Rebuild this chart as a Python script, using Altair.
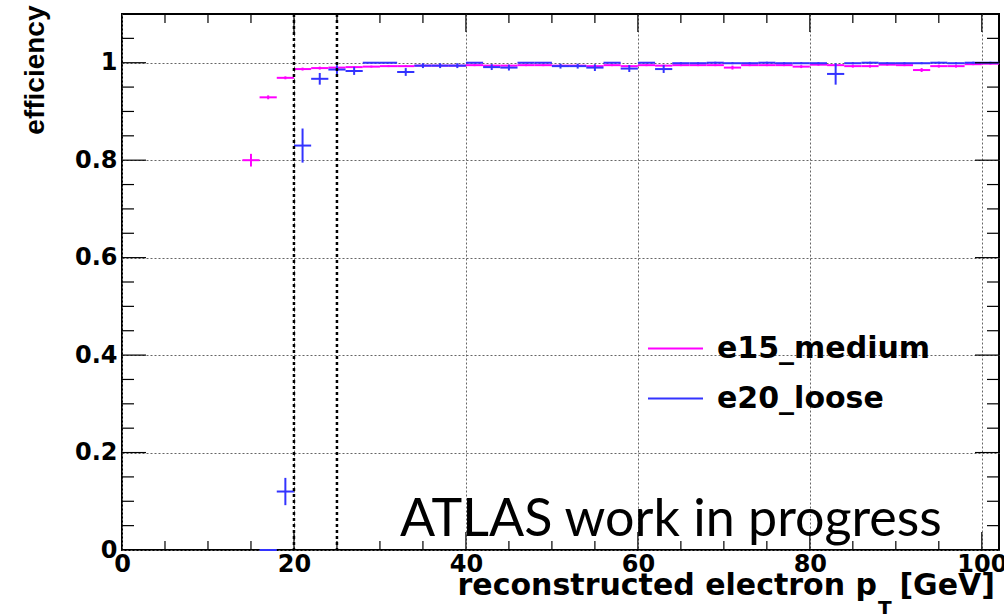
import altair as alt
import pandas as pd

# ---------------- data ----------------
series_names = ["e15_medium", "e20_loose"]
series_colors = ["#ff00ff", "#3333ff"]

bin_half_width = 1.0  # GeV (bins are 2 GeV wide)

e15_pt = [15, 17, 19, 21, 23, 25, 27, 29, 31, 33, 35, 37, 39, 41, 43, 45, 47, 49, 51, 53, 55, 57,
          59, 61, 63, 65, 67, 69, 71, 73, 75, 77, 79, 81, 83, 85, 87, 89, 91, 93, 95, 97, 99, 101]
e15_eff = [0.800, 0.929, 0.969, 0.987, 0.989, 0.990, 0.991, 0.992, 0.993, 0.993, 0.994, 0.994,
           0.994, 0.995, 0.994, 0.994, 0.995, 0.995, 0.994, 0.994, 0.993, 0.995, 0.993, 0.995,
           0.994, 0.995, 0.995, 0.995, 0.990, 0.995, 0.995, 0.995, 0.992, 0.996, 0.995, 0.993,
           0.993, 0.996, 0.995, 0.985, 0.993, 0.993, 0.997, 0.998]
e15_err = [0.013, 0.004, 0.003, 0.003, 0.003, 0.003, 0.002, 0.002, 0.002, 0.002, 0.002, 0.002,
           0.002, 0.002, 0.002, 0.002, 0.002, 0.002, 0.002, 0.002, 0.002, 0.002, 0.002, 0.002,
           0.002, 0.002, 0.002, 0.002, 0.004, 0.002, 0.002, 0.002, 0.003, 0.002, 0.002, 0.003,
           0.003, 0.002, 0.002, 0.004, 0.003, 0.003, 0.002, 0.002]

e20_pt = [17, 19, 21, 23, 25, 27, 29, 31, 33, 35, 37, 39, 41, 43, 45, 47, 49, 51, 53, 55, 57, 59,
          61, 63, 65, 67, 69, 71, 73, 75, 77, 79, 81, 83, 85, 87, 89, 91, 93, 95, 97, 99, 101]
e20_eff = [0.000, 0.120, 0.830, 0.967, 0.986, 0.983, 1.000, 1.000, 0.981, 0.994, 0.994, 0.994,
           1.000, 0.991, 0.990, 1.000, 1.000, 0.993, 0.993, 0.990, 1.000, 0.988, 1.000, 0.987,
           0.999, 0.999, 1.000, 0.999, 0.999, 1.000, 0.999, 0.999, 0.999, 0.977, 0.999, 1.000,
           0.999, 0.999, 0.999, 1.000, 0.999, 1.000, 1.000]
e20_err = [0.002, 0.028, 0.035, 0.012, 0.009, 0.008, 0.001, 0.001, 0.008, 0.005, 0.005, 0.005,
           0.001, 0.006, 0.006, 0.001, 0.001, 0.005, 0.005, 0.007, 0.001, 0.007, 0.001, 0.008,
           0.002, 0.002, 0.002, 0.002, 0.002, 0.002, 0.002, 0.002, 0.002, 0.022, 0.002, 0.002,
           0.002, 0.002, 0.002, 0.002, 0.002, 0.002, 0.002]

cut_lines = [20, 25]

x_label_values = [0, 20, 40, 60, 80, 100]
y_label_values = [0, 0.2, 0.4, 0.6, 0.8, 1.0]
x_major_ticks = [20, 40, 60, 80, 100]
x_minor_ticks = [5, 10, 15, 25, 30, 35, 45, 50, 55, 65, 70, 75, 85, 90, 95]
y_major_ticks = [0.2, 0.4, 0.6, 0.8, 1.0]
y_minor_ticks = [0.05, 0.1, 0.15, 0.25, 0.3, 0.35, 0.45, 0.5, 0.55, 0.65, 0.7, 0.75,
                 0.85, 0.9, 0.95, 1.05]

x_title_main = "reconstructed electron p"
x_title_sub = "T"
x_title_unit = "[GeV]"
y_title = "efficiency"
watermark = "ATLAS work in progress"

# ---------------- layout ----------------
W, H = 877, 536
TICK_FONT = "DejaVu Sans"


def make_df(name, pt, eff, err):
    return pd.DataFrame({
        "trigger": name,
        "pt": pt,
        "lo": [p - bin_half_width for p in pt],
        "hi": [p + bin_half_width for p in pt],
        "eff": eff,
        "elo": [e - d for e, d in zip(eff, err)],
        "ehi": [e + d for e, d in zip(eff, err)],
    })


df15 = make_df(series_names[0], e15_pt, e15_eff, e15_err)
df20 = make_df(series_names[1], e20_pt, e20_eff, e20_err)

x_scale = alt.Scale(domain=[0, 102], nice=False, zero=False)
y_scale = alt.Scale(domain=[0, 1.1], nice=False, zero=False)

x_axis = alt.Axis(values=x_label_values, format="d", ticks=False, domain=False,
                  grid=True, gridColor="#666666", gridDash=[2, 2], gridWidth=1,
                  labelFont=TICK_FONT, labelFontWeight="bold", labelFontSize=24,
                  labelColor="black", labelPadding=2, labelFlush=False,
                  labelOverlap=False, title=None)
y_axis = alt.Axis(values=y_label_values, format="~g", ticks=False, domain=False,
                  grid=True, gridColor="#666666", gridDash=[2, 2], gridWidth=1,
                  labelFont=TICK_FONT, labelFontWeight="bold", labelFontSize=24,
                  labelColor="black", labelPadding=5, labelOverlap=False,
                  title=y_title, titleFont="Liberation Sans", titleFontWeight="bold",
                  titleFontSize=28, titleColor="black", titleAngle=270,
                  titleAlign="right", titleBaseline="middle", titleX=-87, titleY=-9)

legend = alt.Legend(orient="none", legendX=525, legendY=306, title=None,
                    symbolType="stroke", symbolSize=3025, symbolStrokeWidth=2,
                    labelFont=TICK_FONT, labelFontWeight="bold", labelFontSize=30,
                    labelColor="black", labelOffset=13, labelLimit=400,
                    rowPadding=6, padding=0)

color = alt.Color("trigger:N",
                  scale=alt.Scale(domain=series_names, range=series_colors),
                  legend=legend)


def series_layers(df):
    horiz = alt.Chart(df).mark_rule(strokeWidth=2).encode(
        x=alt.X("lo:Q", scale=x_scale, axis=x_axis),
        x2="hi:Q",
        y=alt.Y("eff:Q", scale=y_scale, axis=y_axis),
        color=color,
    )
    vert = alt.Chart(df).mark_rule(strokeWidth=2).encode(
        x=alt.X("pt:Q", scale=x_scale, axis=x_axis),
        y=alt.Y("elo:Q", scale=y_scale, axis=y_axis),
        y2="ehi:Q",
        color=color,
    )
    return [horiz, vert]


cuts = alt.Chart(pd.DataFrame({"cut": cut_lines})).mark_rule(
    color="black", strokeWidth=2.5, strokeDash=[3, 3]
).encode(x=alt.X("cut:Q", scale=x_scale, axis=x_axis))


def yticks(values, length):
    d = pd.DataFrame({"v": values})
    left = alt.Chart(d).mark_rule(color="black", strokeWidth=1.2).encode(
        y=alt.Y("v:Q", scale=y_scale, axis=y_axis), x=alt.value(0), x2=alt.value(length))
    right = alt.Chart(d).mark_rule(color="black", strokeWidth=1.2).encode(
        y=alt.Y("v:Q", scale=y_scale, axis=y_axis), x=alt.value(W - length), x2=alt.value(W))
    return [left, right]


def xticks(values, length):
    d = pd.DataFrame({"v": values})
    bottom = alt.Chart(d).mark_rule(color="black", strokeWidth=1.2).encode(
        x=alt.X("v:Q", scale=x_scale, axis=x_axis), y=alt.value(H - length), y2=alt.value(H))
    top = alt.Chart(d).mark_rule(color="black", strokeWidth=1.2).encode(
        x=alt.X("v:Q", scale=x_scale, axis=x_axis), y=alt.value(0), y2=alt.value(length))
    return [bottom, top]


wm = alt.Chart(pd.DataFrame({"t": [watermark]})).mark_text(
    font="Lato", fontSize=52, align="left", baseline="alphabetic", color="black"
).encode(text="t:N", x=alt.value(278), y=alt.value(522))

xt_main = alt.Chart(pd.DataFrame({"t": [x_title_main]})).mark_text(
    font=TICK_FONT, fontWeight="bold", fontSize=30, align="right",
    baseline="alphabetic", color="black"
).encode(text="t:N", x=alt.value(755), y=alt.value(581))
xt_sub = alt.Chart(pd.DataFrame({"t": [x_title_sub]})).mark_text(
    font=TICK_FONT, fontWeight="bold", fontSize=20, align="left",
    baseline="top", color="black"
).encode(text="t:N", x=alt.value(756), y=alt.value(585))
xt_unit = alt.Chart(pd.DataFrame({"t": [x_title_unit]})).mark_text(
    font=TICK_FONT, fontWeight="bold", fontSize=30, align="right",
    baseline="alphabetic", color="black"
).encode(text="t:N", x=alt.value(873), y=alt.value(581))

layers = (series_layers(df15) + series_layers(df20) + [cuts]
          + yticks(y_major_ticks, 24) + yticks(y_minor_ticks, 12)
          + xticks(x_major_ticks, 18) + xticks(x_minor_ticks, 9)
          + [wm, xt_main, xt_sub, xt_unit])

chart = alt.layer(*layers).properties(
    width=W, height=H, autosize="none",
    padding={"left": 122, "top": 14, "right": 5, "bottom": 64},
    background="white",
).configure_view(stroke="black", strokeWidth=2)

chart.save("out.html", embed_options={"renderer": "svg", "actions": False})
